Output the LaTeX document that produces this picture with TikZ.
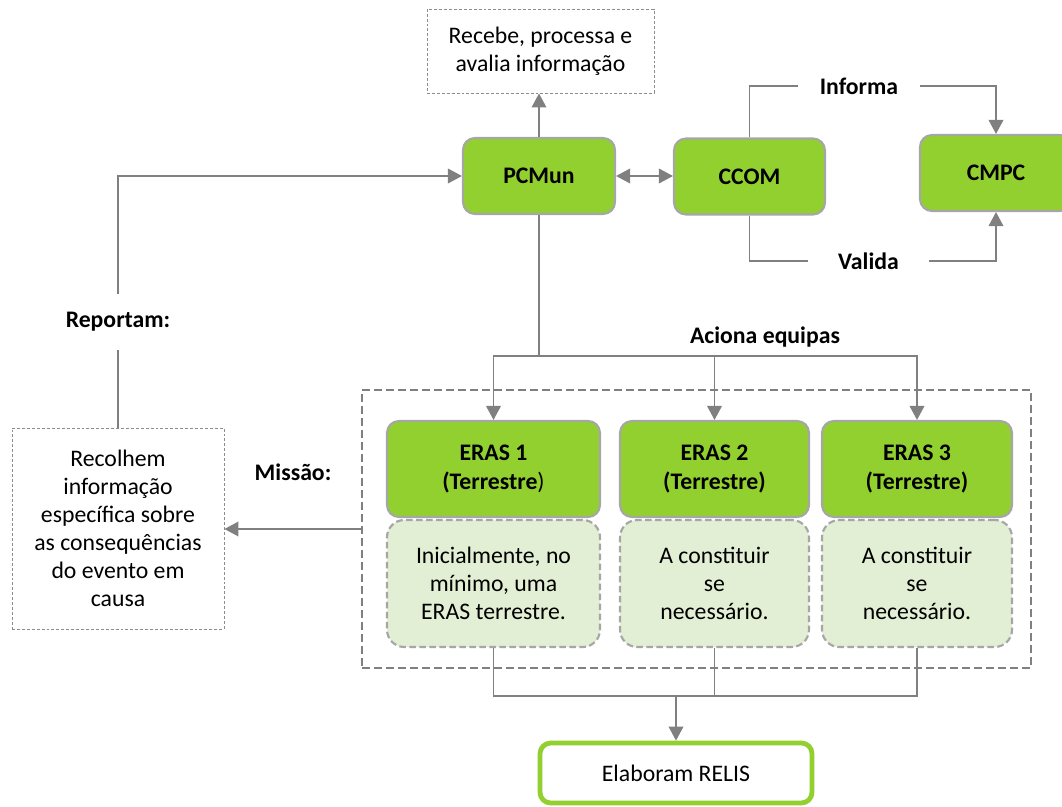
\documentclass[tikz,border=0pt]{standalone}
\usepackage{fontspec}
\setmainfont{Carlito}
\usetikzlibrary{arrows.meta}
\definecolor{grn}{RGB}{146,208,48}
\definecolor{lgrn}{RGB}{226,239,212}
\definecolor{bord}{RGB}{166,166,166}
\definecolor{conn}{RGB}{128,128,128}
\definecolor{dgray}{RGB}{140,140,140}
\begin{document}
\begin{tikzpicture}[x=0.75pt,y=-0.75pt,
  every node/.style={font=\fontsize{17.8}{21}\selectfont},
  greenbox/.style={draw=bord, line width=1.6pt, fill=grn, rounded corners=9pt,
    font=\fontsize{17.8}{22}\selectfont\bfseries, align=center, inner sep=0pt},
  lightbox/.style={draw=bord, line width=1.6pt, dash pattern=on 5pt off 2.5pt,
    fill=lgrn, rounded corners=13pt, align=center, inner sep=0pt},
  notebox/.style={draw=dgray, line width=0.7pt, dash pattern=on 2.2pt off 1.5pt,
    align=center, inner sep=0pt},
  grpbox/.style={draw=conn, line width=1.8pt, dash pattern=on 6pt off 3pt, inner sep=0pt},
  relbox/.style={draw=grn, line width=3.6pt, rounded corners=8pt, inner sep=0pt, fill=white},
  conn/.style={draw=conn, line width=1.1pt},
  arr/.style={conn, -{Triangle[length=10.5pt,width=11pt]}},
  dbl/.style={conn, {Triangle[length=10.5pt,width=11pt]}-{Triangle[length=10.5pt,width=11pt]}},
  lbl/.style={font=\fontsize{17.8}{21}\selectfont\bfseries, inner sep=0pt},
  gaplbl/.style={lbl, fill=white}
]
\useasboundingbox (0,0) rectangle (1062,806);
\clip (0,0) rectangle (1062,806);

% top note
\node[notebox, minimum width=170.25pt, minimum height=63pt] (top) at (540.5,51)
  {Recebe, processa e\\avalia informação};

% green boxes
\node[greenbox, minimum width=114pt, minimum height=57pt] (P) at (539,176) {PCMun};
\node[greenbox, minimum width=113.25pt, minimum height=57pt] (C) at (749.5,176.5) {CCOM};
\node[greenbox, minimum width=114pt, minimum height=57pt] (M) at (996,173) {CMPC};

% labels on CCOM-CMPC links
\node[lbl, minimum width=91.5pt] (inf) at (859,86) {Informa};
\node[lbl, minimum width=90.75pt] (val) at (868.5,261) {Valida};

% Reportam
\node[lbl, minimum height=42pt] (rep) at (118,322) {Reportam:};
\node[notebox, minimum width=159pt, minimum height=150.75pt] (rec) at (118,528.5)
  {Recolhem\\informação\\específica sobre\\as consequências\\do evento em\\causa};

% group
\node[grpbox, minimum width=501.75pt, minimum height=208.5pt] (grp) at (696.5,529) {};
\node[lbl] (mis) at (293,472) {Missão:};
\node[lbl] (aci) at (765,337) {Aciona equipas};

% ERAS
\node[greenbox, minimum width=159.75pt, minimum height=72pt] (E1) at (493.5,469)
  {ERAS 1\\(Terrestre\textmd{)}};
\node[greenbox, minimum width=141.75pt, minimum height=72pt] (E2) at (714.5,469)
  {ERAS 2\\(Terrestre)};
\node[greenbox, minimum width=142.5pt, minimum height=72pt] (E3) at (917,469)
  {ERAS 3\\(Terrestre)};
\node[lightbox, minimum width=159.75pt, minimum height=95.25pt] (L1) at (493.5,583.5)
  {Inicialmente, no\\mínimo, uma\\ERAS terrestre.};
\node[lightbox, minimum width=141.75pt, minimum height=95.25pt] (L2) at (714.5,583.5)
  {A constituir\\se\\necessário.};
\node[lightbox, minimum width=142.5pt, minimum height=95.25pt] (L3) at (917,583.5)
  {A constituir\\se\\necessário.};

% RELIS
\node[relbox, minimum width=204pt, minimum height=45pt] (R) at (676,773) {Elaboram RELIS};

% connectors
\draw[arr] (P.north) -- (P.north |- top.south);
\draw[dbl] (P.east) -- (P.east -| C.west);
\draw[conn] (C.north) |- (inf.west);
\draw[arr] (inf.east) -| (M.north);
\draw[conn] (C.south) |- (val.west);
\draw[arr] (val.east) -| (M.south);

\draw[arr] (rep.north) |- (P.west);
\draw[conn] (rep.south) -- (rec.north);
\draw[arr] (grp.west) -- (grp.west -| rec.east);

\coordinate (split) at (539,356);
\draw[conn] (P.south) -- (split);
\draw[arr] (split) -| (E1.north);
\draw[arr] (split) -| (E3.north);
\draw[arr] (E2.north |- split) -- (E2.north);

\coordinate (join) at (676,696);
\draw[conn] (L1.south) |- (L3.south |- join) -- (L3.south);
\draw[conn] (L2.south) -- (L2.south |- join);
\draw[arr] (join) -- (R.north);
\end{tikzpicture}
\end{document}
